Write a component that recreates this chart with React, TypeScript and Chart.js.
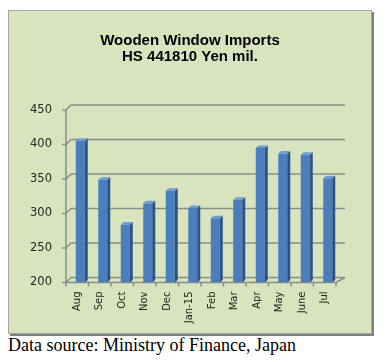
import React, { useEffect, useRef } from "react";
import { Chart, registerables } from "chart.js";

Chart.register(...registerables);

const categories = ["Aug", "Sep", "Oct", "Nov", "Dec", "Jan-15", "Feb", "Mar", "Apr", "May", "June", "Jul"];
const imports = [405, 349, 284, 315, 333, 308, 293, 320, 395, 387, 385, 351];
const yTicks = [200, 250, 300, 350, 400, 450];
const titleLines = ["Wooden Window Imports", "HS 441810 Yen mil."];
const caption = "Data source: Ministry of Finance, Japan";

const DX = 5;
const DY = 5;
const SX = 3;
const SY = 2.5;
const SHIFT = 3;

const frame3d = {
  id: "frame3d",
  beforeDatasetsDraw(chart: any) {
    const { ctx, chartArea, scales } = chart;
    const { left, right, bottom } = chartArea;
    const y = scales.y;
    ctx.save();
    ctx.strokeStyle = "#8c8c8c";
    ctx.lineWidth = 1.5;
    yTicks.forEach((v) => {
      const py = y.getPixelForValue(v);
      ctx.beginPath();
      ctx.moveTo(left - 4, py);
      ctx.lineTo(left, py);
      ctx.lineTo(left + DX, py - DY);
      ctx.lineTo(right + DX + 4, py - DY);
      ctx.stroke();
    });
    ctx.beginPath();
    ctx.moveTo(left, y.getPixelForValue(yTicks[yTicks.length - 1]));
    ctx.lineTo(left, bottom);
    ctx.lineTo(right, bottom);
    ctx.lineTo(right + DX + 4, bottom - DY);
    ctx.stroke();
    const n = categories.length;
    for (let i = 0; i <= n; i++) {
      const px = left + ((right - left) * i) / n;
      ctx.beginPath();
      ctx.moveTo(px, bottom);
      ctx.lineTo(px, bottom + 4);
      ctx.stroke();
    }
    ctx.restore();
    ctx.save();
    ctx.translate(SHIFT, 0);
  },
  afterDatasetsDraw(chart: any) {
    const { ctx, chartArea } = chart;
    const meta = chart.getDatasetMeta(0);
    meta.data.forEach((bar: any) => {
      const p = bar.getProps(["x", "y", "base", "width"], true);
      const x = p.x;
      const y = p.y;
      const base = Math.min(p.base, chartArea.bottom);
      const width = p.width;
      const l = x - width / 2;
      const r = x + width / 2;
      ctx.fillStyle = "#2d5287";
      ctx.beginPath();
      ctx.moveTo(r, y);
      ctx.lineTo(r + SX, y - SY);
      ctx.lineTo(r + SX, base - SY);
      ctx.lineTo(r, base);
      ctx.closePath();
      ctx.fill();
      ctx.fillStyle = "#6f9bd3";
      ctx.beginPath();
      ctx.moveTo(l, y);
      ctx.lineTo(l + SX, y - SY);
      ctx.lineTo(r + SX, y - SY);
      ctx.lineTo(r, y);
      ctx.closePath();
      ctx.fill();
    });
    ctx.restore();
  },
};

export default function App() {
  const canvasRef = useRef<HTMLCanvasElement | null>(null);

  useEffect(() => {
    if (!canvasRef.current) return;
    const chart = new Chart(canvasRef.current, {
      type: "bar",
      data: {
        labels: categories,
        datasets: [
          {
            data: imports,
            base: 200,
            backgroundColor: "#4a7ebd",
            borderWidth: 0,
            barPercentage: 0.4,
            categoryPercentage: 1,
          },
        ],
      },
      options: {
        animation: false,
        responsive: false,
        devicePixelRatio: 1,
        layout: { padding: 0 },
        plugins: {
          legend: { display: false },
          tooltip: { enabled: false },
          title: {
            display: true,
            text: titleLines,
            color: "#000",
            font: { family: '"Liberation Sans", Arial, sans-serif', size: 15, weight: "bold", lineHeight: 1.05 },
            padding: { top: 22.1, bottom: 45.4 },
          },
        },
        scales: {
          x: {
            grid: { display: false, drawTicks: false },
            border: { display: false },
            ticks: {
              autoSkip: false,
              maxRotation: 90,
              minRotation: 90,
              padding: 9,
              color: "#222",
              font: { family: '"DejaVu Sans", sans-serif', size: 10 },
            },
            afterFit: (scale: any) => {
              scale.height = 50.5;
            },
          },
          y: {
            min: 200,
            max: 450,
            grid: { display: false, drawTicks: false },
            border: { display: false },
            ticks: {
              stepSize: 50,
              padding: 14,
              color: "#262626",
              font: { family: '"DejaVu Sans", sans-serif', size: 11.5 },
            },
            afterFit: (scale: any) => {
              scale.width = 57;
            },
          },
          yRight: {
            position: "right",
            display: true,
            grid: { display: false, drawTicks: false },
            border: { display: false },
            ticks: { display: false },
            afterFit: (scale: any) => {
              scale.width = 35;
            },
          },
        },
      },
      plugins: [frame3d],
    });
    return () => chart.destroy();
  }, []);

  return (
    <div style={{ paddingTop: 2 }}>
      <div
        style={{
          position: "relative",
          width: 362,
          height: 322,
          background: "#d7e4bd",
          border: "1px solid #a6a6a6",
          boxShadow: "2px 2px 0 #7f7f7f",
        }}
      >
        <canvas ref={canvasRef} width={362} height={322} style={{ position: "absolute", left: 0, top: 0 }} />
      </div>
      <div
        style={{
          marginTop: 1,
          fontFamily: '"Liberation Serif", "Times New Roman", serif',
          fontSize: 18,
          color: "#000",
        }}
      >
        {caption}
      </div>
    </div>
  );
}
